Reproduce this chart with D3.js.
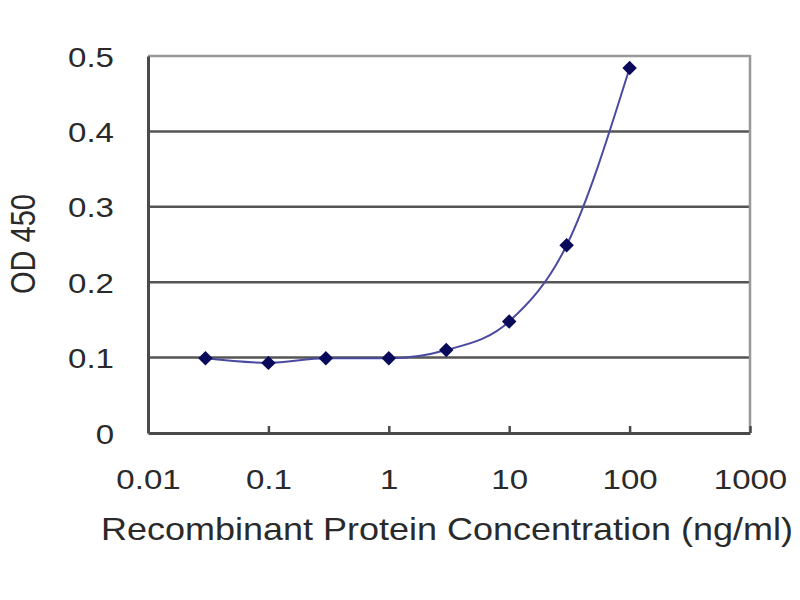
<!DOCTYPE html>
<html>
<head>
<meta charset="utf-8">
<script src="https://cdn.jsdelivr.net/npm/d3@7"></script>
<style>
  html, body { margin: 0; padding: 0; background: #fff; }
  text { font-family: "Liberation Sans", Arial, sans-serif; fill: #2a2a2a; }
</style>
</head>
<body>
<svg id="chart" width="800" height="600"></svg>
<script>
// ---- data ----
const concentrations = [0.03, 0.1, 0.3, 1, 3, 10, 30, 100];
const odValues = [0.099, 0.093, 0.099, 0.099, 0.110, 0.148, 0.249, 0.484];
const xTickValues = [0.01, 0.1, 1, 10, 100, 1000];
const xTickLabels = ["0.01", "0.1", "1", "10", "100", "1000"];
const yTickValues = [0, 0.1, 0.2, 0.3, 0.4, 0.5];
const yTickLabels = ["0", "0.1", "0.2", "0.3", "0.4", "0.5"];
const xTitle = "Recombinant Protein Concentration (ng/ml)";
const yTitle = "OD 450";

(function () {
const svg = d3.select("#chart");
const mLeft = 148, mRight = 750, mTop = 56, mBottom = 433;
const stretch = 1.18;

const x = d3.scaleLog().domain([0.01, 1000]).range([mLeft, mRight]);
const y = d3.scaleLinear().domain([0, 0.5]).range([mBottom, mTop]);

// gridlines
svg.append("g").selectAll("line").data(yTickValues.filter(v => v > 0 && v < 0.5))
  .join("line")
  .attr("x1", mLeft).attr("x2", mRight)
  .attr("y1", d => y(d)).attr("y2", d => y(d))
  .attr("stroke", "#555").attr("stroke-width", 2.5);

// top and right frame (lighter)
svg.append("path")
  .attr("d", `M${mLeft},${y(0.5)}H${mRight}V${mBottom}`)
  .attr("fill", "none").attr("stroke", "#999").attr("stroke-width", 2.5);

// axes with d3
const xAxis = d3.axisBottom(x).tickValues(xTickValues)
  .tickFormat((d, i) => xTickLabels[i]).tickSizeInner(-7).tickSizeOuter(0);
const gx = svg.append("g").attr("transform", `translate(0,${mBottom})`).call(xAxis);
gx.select(".domain").attr("stroke", "#4a4a4a").attr("stroke-width", 3);
gx.selectAll(".tick line").attr("stroke", "#4a4a4a").attr("stroke-width", 2.5);
gx.selectAll(".tick text")
  .attr("font-size", 28).attr("fill", "#2a2a2a")
  .attr("y", 0).attr("dy", 0)
  .attr("transform", `translate(0,56) scale(${stretch},1)`);

const yAxis = d3.axisLeft(y).tickValues(yTickValues)
  .tickFormat((d, i) => yTickLabels[i]).tickSizeInner(0).tickSizeOuter(0);
const gy = svg.append("g").attr("transform", `translate(${mLeft},0)`).call(yAxis);
gy.select(".domain").attr("stroke", "#4a4a4a").attr("stroke-width", 3);
gy.selectAll(".tick text")
  .attr("font-size", 28).attr("fill", "#2a2a2a")
  .attr("x", 0).attr("dy", "0.36em")
  .attr("transform", `translate(-34,0) scale(${stretch},1)`);
svg.selectAll(".tick text").style("font-family", "'Liberation Sans', Arial, sans-serif");

// fitted curve
const pts = concentrations.map((c, i) => [c, odValues[i]]);
const lineGen = d3.line().x(d => x(d[0])).y(d => y(d[1])).curve(d3.curveMonotoneX);
svg.append("path").datum(pts)
  .attr("d", lineGen)
  .attr("fill", "none").attr("stroke", "#4a4aa0").attr("stroke-width", 2);

// markers (diamonds)
svg.append("g").selectAll("path").data(pts).join("path")
  .attr("transform", d => `translate(${x(d[0])},${y(d[1])}) rotate(45)`)
  .attr("d", d3.symbol().type(d3.symbolSquare).size(105))
  .attr("fill", "#0a0a5a");

// axis titles
svg.append("text")
  .attr("transform", `translate(447,540) scale(${stretch},1)`)
  .attr("text-anchor", "middle").attr("font-size", 30.5)
  .text(xTitle);

svg.append("text")
  .attr("transform", `translate(35,244) scale(${stretch},1) rotate(-90)`)
  .attr("text-anchor", "middle").attr("font-size", 29)
  .text(yTitle);
})();
</script>
</body>
</html>
